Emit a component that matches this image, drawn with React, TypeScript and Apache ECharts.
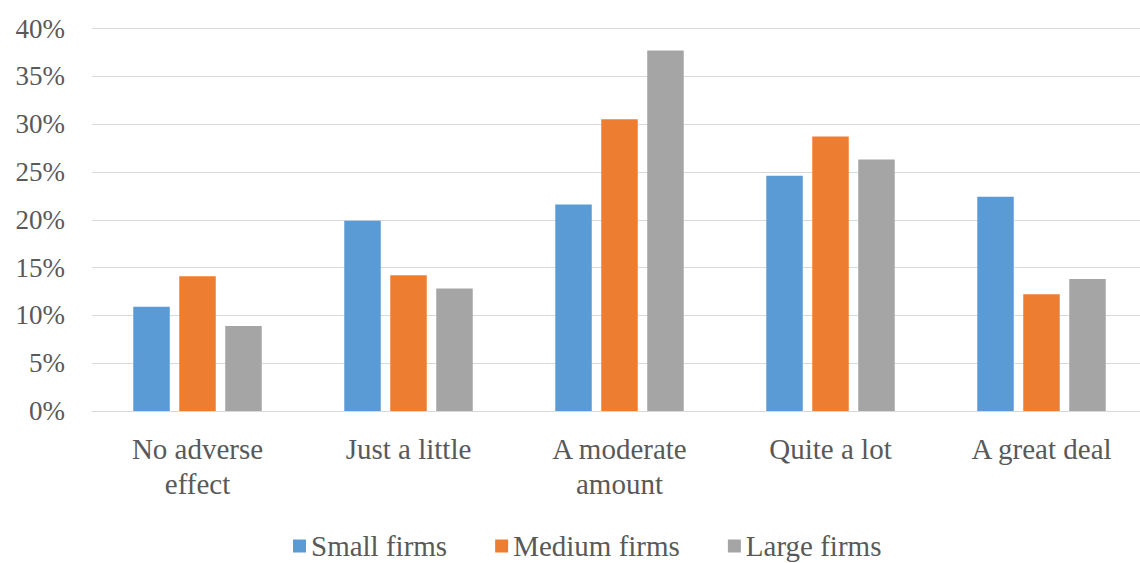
import React, { useEffect, useRef } from "react";
import * as echarts from "echarts";

// Share of firms reporting each level of adverse effect, by firm size (%)
const categories = [
  "No adverse\neffect",
  "Just a little",
  "A moderate\namount",
  "Quite a lot",
  "A great deal",
];
const seriesNames = ["Small firms", "Medium firms", "Large firms"];
const smallFirms = [10.9, 19.9, 21.6, 24.6, 22.4];
const mediumFirms = [14.1, 14.2, 30.5, 28.7, 12.2];
const largeFirms = [8.9, 12.8, 37.7, 26.3, 13.8];
const yTicks = { min: 0, max: 40, interval: 5 };

const colors = ["#5B9BD5", "#ED7D31", "#A5A5A5"];
const font = "'Liberation Serif', 'Times New Roman', serif";
const textColor = "#595959";

export default function App() {
  const ref = useRef<HTMLDivElement>(null);

  useEffect(() => {
    if (!ref.current) return;
    const chart = echarts.init(ref.current, null, { renderer: "svg" });
    const values = [smallFirms, mediumFirms, largeFirms];

    chart.setOption({
      animation: false,
      color: colors,
      grid: {
        left: 92,
        right: -7,
        top: 28.5,
        bottom: 152,
        containLabel: false,
        outerBoundsMode: "none",
      },
      legend: {
        data: seriesNames,
        left: 288,
        top: 526,
        icon: "rect",
        itemWidth: 13,
        itemHeight: 13,
        itemGap: 48,
        textStyle: {
          fontFamily: font,
          fontSize: 29,
          lineHeight: 30,
          color: textColor,
        },
      },
      xAxis: {
        type: "category",
        data: categories,
        axisLine: { show: true, lineStyle: { color: "#D9D9D9", width: 1 } },
        axisTick: { show: false },
        axisLabel: {
          interval: 0,
          margin: 20,
          fontFamily: font,
          fontSize: 29,
          lineHeight: 35,
          color: textColor,
        },
      },
      yAxis: {
        type: "value",
        min: yTicks.min,
        max: yTicks.max,
        interval: yTicks.interval,
        axisLine: { show: false },
        axisTick: { show: false },
        splitLine: { lineStyle: { color: "#D9D9D9", width: 1 } },
        axisLabel: {
          formatter: "{value}%",
          margin: 27,
          fontFamily: font,
          fontSize: 27,
          color: textColor,
        },
      },
      series: seriesNames.map((name, i) => ({
        name,
        type: "bar",
        data: values[i],
        barWidth: 36.5,
        barGap: "26%",
        itemStyle: { color: colors[i] },
      })),
    });

    return () => chart.dispose();
  }, []);

  return (
    <div
      ref={ref}
      style={{
        position: "absolute",
        left: 0,
        top: 0,
        width: 1140,
        height: 563,
        background: "#ffffff",
      }}
    />
  );
}
